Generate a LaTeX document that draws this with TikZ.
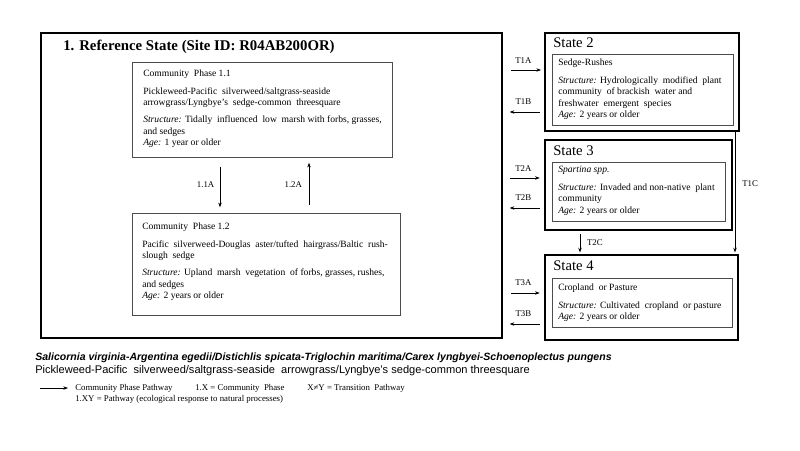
\documentclass[tikz,border=0pt]{standalone}
\usepackage{fontspec}
\setmainfont{Liberation Serif}
\newfontfamily\arialf{Liberation Sans}
\usetikzlibrary{arrows.meta,fit}
\begin{document}
\begin{tikzpicture}[x=0.75pt,y=-0.75pt,
 mainframe/.style={draw, line width=1.5pt, inner sep=0pt},
 sframe/.style={draw, line width=1.9pt, inner sep=0pt},
 ibox/.style={draw=black!70, line width=0.6pt, inner sep=0pt},
 btext/.style={anchor=north west, align=left, inner sep=0pt, font=\fontsize{7.2}{8.6}\selectfont},
 arr/.style={-{Stealth[length=3.5pt,width=2.6pt]}, line width=0.5pt},
 tlab/.style={font=\fontsize{6.6}{7}\selectfont, inner sep=0pt},
 stitle/.style={anchor=west, font=\fontsize{11}{12}\selectfont, inner sep=0pt},
 legtext/.style={anchor=base west, inner sep=0pt, font=\fontsize{6.6}{7}\selectfont}]
\useasboundingbox (0,0) rectangle (800,450);
\fill[white] (0,0) rectangle (800,450);

% main reference state
\node[mainframe, fit={(41,33) (502,338)}] (main) {};
\node[anchor=west, inner sep=0pt, font=\fontsize{11.1}{12}\selectfont\bfseries] (title) at (63,47) {1. Reference State (Site ID: R04AB200OR)};

% phase boxes
\node[ibox, fit={(132,62) (392,157)}] (p11) {};
\node[btext] (p11t) at (143,70) {Community\ \ Phase 1.1\\[4.5pt]
Pickleweed-Pacific\ \ silverweed/saltgrass-seaside\\
arrowgrass/Lyngbye’s\ \ sedge-common\ \ threesquare\\[4pt]
\textit{Structure:} Tidally\ \ influenced\ \ low\ \ marsh with forbs, grasses,\\
and sedges\\
\textit{Age:} 1 year or older};

\node[ibox, fit={(132,213) (400,315)}] (p12) {};
\node[btext] (p12t) at (142,223) {Community\ \ Phase 1.2\\[4.5pt]
Pacific\ \ silverweed-Douglas\ \ aster/tufted\ \ hairgrass/Baltic\ \ rush-\\
slough\ \ sedge\\[4pt]
\textit{Structure:} Upland\ \ marsh\ \ vegetation\ \ of forbs, grasses, rushes,\\
and sedges\\
\textit{Age:} 2 years or older};

\draw[arr, shorten <=7pt, shorten >=4pt] (p11.south -| 220,0) -- node[tlab, left=4pt] (l11a) {1.1A} (p12.north -| 220,0);
\draw[arr, shorten <=6pt, shorten >=4pt] (p12.north -| 309,0) -- node[tlab, left=5pt] (l12a) {1.2A} (p11.south -| 309,0);

% state 2
\node[sframe, fit={(545,33) (739,131)}] (s2) {};
\node[stitle] (s2t) at (553,43) {State 2};
\node[ibox, fit={(552,54) (733,125)}] (s2i) {};
\node[btext] (s2x) at (558,59) {Sedge-Rushes\\[4.5pt]
\textit{Structure:} Hydrologically\ \ modified\ \ plant\\
community\ \ of brackish\ \ water and\\
freshwater\ \ emergent\ \ species\\
\textit{Age:} 2 years or older};

% state 3
\node[sframe, fit={(545,140) (732,230)}] (s3) {};
\node[stitle] (s3t) at (553,151) {State 3};
\node[ibox, fit={(552,162) (725,221)}] (s3i) {};
\node[btext] (s3x) at (558,166) {\textit{Spartina spp.}\\[4.5pt]
\textit{Structure:} Invaded and non-native\ \ plant\\
community\\
\textit{Age:} 2 years or older};

% state 4
\node[sframe, fit={(545,255) (738,340)}] (s4) {};
\node[stitle] (s4t) at (553,266) {State 4};
\node[ibox, fit={(552,278) (732,327)}] (s4i) {};
\node[btext] (s4x) at (558,284) {Cropland\ \ or Pasture\\[4.5pt]
\textit{Structure:} Cultivated\ \ cropland\ \ or pasture\\
\textit{Age:} 2 years or older};

% transitions
\draw[arr, shorten <=6pt, shorten >=2pt] (main.east |- 0,70) -- node[tlab, above=5pt] (t1a) {T1A} (s2.west |- 0,70);
\draw[arr, shorten <=3pt, shorten >=5pt] (s2.west |- 0,112) -- node[tlab, above=5pt] (t1b) {T1B} (main.east |- 0,112);
\draw[arr, shorten <=5pt, shorten >=3pt] (main.east |- 0,178) -- node[tlab, above=5pt] (t2a) {T2A} (s3.west |- 0,178);
\draw[arr, shorten <=3pt, shorten >=5pt] (s3.west |- 0,208) -- node[tlab, above=5pt] (t2b) {T2B} (main.east |- 0,208);
\draw[arr, shorten <=6pt, shorten >=3pt] (main.east |- 0,293) -- node[tlab, above=5pt] (t3a) {T3A} (s4.west |- 0,293);
\draw[arr, shorten <=3pt, shorten >=5pt] (s4.west |- 0,324) -- node[tlab, above=5pt] (t3b) {T3B} (main.east |- 0,324);
\draw[arr, shorten <=2pt, shorten >=1pt] (s3.south -| 580,0) -- node[tlab, right=5pt] (t2c) {T2C} (s4.north -| 580,0);
\draw[arr, shorten >=1pt] (s2.south -| 735,0) -- (s4.north -| 735,0);
\node[tlab, anchor=west] (t1c) at (742,184) {T1C};

% bottom text
\node[anchor=base west, inner sep=0pt, font=\arialf\fontsize{7.9}{9}\selectfont\bfseries\itshape] (sci) at (35,360) {Salicornia virginia-Argentina egedii/Distichlis spicata-Triglochin maritima/Carex lyngbyei-Schoenoplectus pungens};
\node[anchor=base west, inner sep=0pt, font=\arialf\fontsize{8.3}{9}\selectfont] (com) at (35,373) {Pickleweed-Pacific\ \ silverweed/saltgrass-seaside\ \ arrowgrass/Lyngbye’s sedge-common threesquare};

% legend
\coordinate (la) at (40,388);
\coordinate (lb) at (68,388);
\draw[arr] (la) -- (lb);
\node[legtext] (lg1) at (75,390) {Community Phase Pathway};
\node[legtext] (lg2) at (195,390) {1.X = Community\ \ Phase};
\node[legtext] (lg3) at (307,390) {X≠Y = Transition\ \ Pathway};
\node[legtext] (lg4) at (75,401) {1.XY = Pathway (ecological response to natural processes)};
\end{tikzpicture}
\end{document}
